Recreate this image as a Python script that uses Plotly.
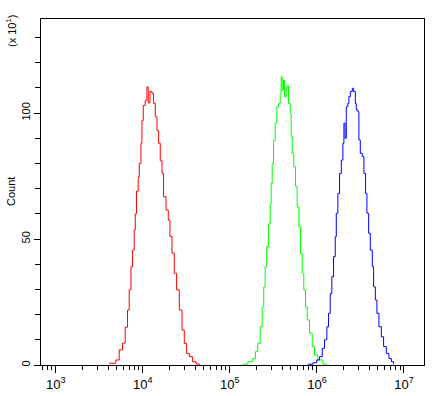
import plotly.graph_objects as go

# Fluorescence intensity (channel values) and counts (x10^1)
red_x = [4105, 4900, 5350, 5840, 6270, 6670, 6970, 7300, 7610, 7960, 8180, 8460, 8850,
         9100, 9510, 9770, 10110, 10660, 11140, 11530, 12070, 12730, 13280, 13900, 14530,
         15170, 15850, 16600, 17300, 18450, 19600, 20500, 21600, 22970, 24430, 26240,
         28180, 29920, 31840, 34200, 37330, 40830, 44570]
red_y = [0.7, 2, 6, 8.7, 15, 21.8, 29.8, 39, 45.6, 53.6, 60, 69, 74.7,
         80, 88, 97, 103, 105, 110.4, 104, 108.5, 107.8, 103.8, 98.5, 93,
         88, 81, 76, 66.8, 61.5, 57.5, 51, 44.4, 36.4, 29.8, 21.8,
         13.9, 8.6, 4.6, 3.3, 1.3, 0.4, 0]

green_x = [140300, 160300, 182900, 196500, 208900, 222800, 235000, 244900, 254100, 264900,
           277300, 290400, 297900, 306200, 317000, 331100, 345900, 361400, 378400, 388200,
           398900, 413000, 423600, 443600, 455000, 471000, 493000, 505800, 520000, 542000,
           567500, 592900, 619400, 647100, 677600, 706300, 739600, 772700, 822200, 883100,
           937600, 1023000, 1169000, 1279000]
green_y = [0.3, 1.3, 2.6, 5.3, 8.6, 15.2, 23, 31, 39, 47,
           56, 64, 72, 80, 89, 96, 102.5, 103.8, 107.8, 114.4,
           109, 113, 106.5, 110, 111, 103.8, 100, 90.6, 84, 78.7,
           70.8, 62.8, 54.9, 44.3, 36.4, 29.8, 23, 17.9, 12.6, 7.3,
           4, 2, 0.4, 0]

blue_x = [785200, 897500, 997700, 1072000, 1151000, 1222000, 1300000, 1359000, 1422000,
          1483000, 1552000, 1624000, 1668000, 1741000, 1820000, 1905000, 1987000, 2042000,
          2105000, 2173000, 2268000, 2328000, 2417000, 2547000, 2636000, 2761000, 2832000,
          2958000, 3035000, 3148000, 3319000, 3467000, 3622000, 3750000, 3926000, 4102000,
          4326000, 4478000, 4688000, 4887000, 5152000, 5495000, 5834000, 6266000, 6714000,
          7161000, 7603000]
blue_y = [0.3, 0.9, 2, 3.3, 6.6, 10, 15.2, 20.5, 28.4,
          35, 43, 50.9, 60.2, 68.1, 76, 81.3, 88, 96,
          90, 102.5, 103.8, 106.5, 108.5, 109.8, 108.5, 103.8, 101.2,
          100.5, 89.3, 84, 82.7, 76, 68.1, 60.2, 52.3, 45.6,
          39, 31, 25.8, 20.5, 15.2, 11.2, 7.3, 4.6, 2.6,
          1.3, 0.3]

x_tick_vals = [1e3, 1e4, 1e5, 1e6, 1e7]
x_tick_text = ["10<sup>3</sup>", "10<sup>4</sup>", "10<sup>5</sup>", "10<sup>6</sup>", "10<sup>7</sup>"]
y_tick_vals = [0, 50, 100]
y_title = "Count"
y_scale_note = "(x 10<sup>1</sup>)"

fig = go.Figure()
for xs, ys, col in [(red_x, red_y, "#ff0000"), (green_x, green_y, "#00ff00"), (blue_x, blue_y, "#0000ff")]:
    fig.add_trace(go.Scatter(x=xs, y=ys, mode="lines", line=dict(color=col, width=1, shape="hv"),
                             showlegend=False, hoverinfo="skip"))

font = dict(family="Liberation Sans, Arial, sans-serif", color="black")

fig.update_layout(
    width=443, height=396,
    margin=dict(l=41, r=19, t=19, b=31, autoexpand=False),
    paper_bgcolor="white", plot_bgcolor="white",
    font=dict(**font, size=12),
    xaxis=dict(type="log", range=[2.83, 7.23], showgrid=False, zeroline=False,
               showline=True, linecolor="black", linewidth=1, mirror=True,
               ticks="outside", ticklen=7, tickcolor="black", tickwidth=1,
               tickvals=x_tick_vals, ticktext=x_tick_text,
               tickfont=dict(**font, size=13),
               minor=dict(ticks="outside", ticklen=4, tickcolor="black", tickwidth=1,
                          dtick="D1", showgrid=False)),
    yaxis=dict(range=[0, 137.3], showgrid=False, zeroline=False,
               showline=True, linecolor="black", linewidth=1, mirror=True,
               ticks="outside", ticklen=6, tickcolor="black", tickwidth=1,
               tickvals=y_tick_vals, tickangle=-90,
               tickfont=dict(**font, size=11),
               minor=dict(ticks="outside", ticklen=5, tickcolor="black", tickwidth=1,
                          dtick=10, tick0=0, showgrid=False)),
    annotations=[
        dict(text=y_title, xref="paper", yref="paper", x=-30/383, y=0.5,
             xanchor="center", yanchor="middle", textangle=-90, showarrow=False,
             font=dict(**font, size=11)),
        dict(text=y_scale_note, xref="paper", yref="paper", x=-30/383, y=(365-31)/346,
             xanchor="center", yanchor="middle", textangle=-90, showarrow=False,
             font=dict(**font, size=11)),
    ],
)

fig.write_html("out.html", config={"displayModeBar": False},
               post_script="document.body.style.margin='0';document.body.style.overflow='hidden';")
